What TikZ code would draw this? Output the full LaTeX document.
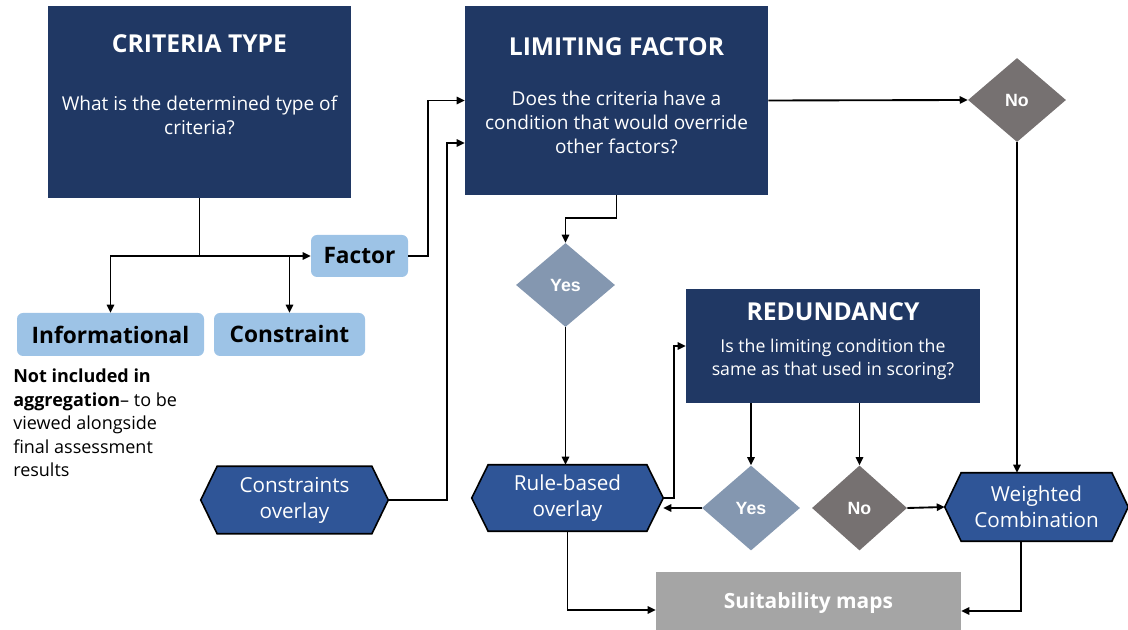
\documentclass[tikz,border=0pt]{standalone}
\usepackage{fontspec}
\setmainfont{Open Sans}
\newfontfamily\arialf{Liberation Sans}
\usetikzlibrary{shapes.geometric,arrows.meta,calc}
\pgfdeclarelayer{background}
\pgfsetlayers{background,main}
\definecolor{navy}{HTML}{203864}
\definecolor{hexblue}{HTML}{2F5597}
\definecolor{lightblue}{HTML}{9DC3E6}
\definecolor{yesc}{HTML}{8497B0}
\definecolor{noc}{HTML}{767171}
\definecolor{suitc}{HTML}{A5A5A5}
\newcommand\hexbg[1]{\begin{pgfonlayer}{background}\draw[hexline] (#1.west) -- ([xshift=12.3pt]#1.north west) -- ([xshift=-12.3pt]#1.north east) -- (#1.east) -- ([xshift=-12.3pt]#1.south east) -- ([xshift=12.3pt]#1.south west) -- cycle;\end{pgfonlayer}}
\tikzset{
  px/.style={x=0.75pt,y=-0.75pt},
  navybox/.style={fill=navy, draw=none, inner sep=0pt},
  ttl/.style={text=white, font=\fontsize{18.5}{22}\selectfont\bfseries},
  body/.style={text=white, font=\fontsize{14.3}{18}\selectfont, align=center},
  pill/.style={fill=lightblue, rounded corners=4.5pt, draw=none, inner sep=0pt, font=\fontsize{17}{20}\selectfont\bfseries},
  hexnode/.style={inner sep=0pt, text=white, align=center, font=\fontsize{15.5}{19.5}\selectfont},
  hexline/.style={draw=black, fill=hexblue, line width=1.2pt},
  dia/.style={diamond, draw=none, inner sep=0pt, text=white, font=\arialf\fontsize{13.3}{15}\selectfont\bfseries},
  arr/.style={draw=black, line width=1.4pt, -{Triangle[length=6pt,width=5.5pt]}},
}
\begin{document}
\begin{tikzpicture}[px]
\useasboundingbox (0,0) rectangle (1128,630);
% boxes
\node[navybox, minimum width=227.25pt, minimum height=144pt] (ct) at (199.5,102) {};
\node[ttl] (cttitle) at (199.5,44) {CRITERIA TYPE};
\node[body] (cttext) at (199.5,115.5) {What is the determined type of\\criteria?};

\node[navybox, minimum width=227.25pt, minimum height=141.75pt] (lf) at (616.5,100.5) {};
\node[ttl] (lftitle) at (616.5,47) {LIMITING FACTOR};
\node[body] (lftext) at (616.5,122) {Does the criteria have a\\condition that would override\\other factors?};

\node[navybox, minimum width=220.5pt, minimum height=85.5pt] (red) at (833,346) {};
\node[ttl] (redtitle) at (833,312) {REDUNDANCY};
\node[body, font=\fontsize{13.3}{17.3}\selectfont] (redtext) at (833,359.5) {Is the limiting condition the\\same as that used in scoring?};

% pills
\node[pill, minimum width=72.75pt, minimum height=31.5pt] (factor) at (359.5,256) {Factor};
\node[pill, minimum width=140.25pt, minimum height=32.25pt] (info) at (110.5,334.5) {Informational};
\node[pill, minimum width=113.25pt, minimum height=32.25pt] (cons) at (289.5,334.5) {Constraint};

\node[anchor=north west, align=left, inner sep=0pt, font=\fontsize{13.5}{17.6}\selectfont] (note) at (13,369)
 {\textbf{Not included in}\\\textbf{aggregation}-- to be\\viewed alongside\\final assessment\\results};

% hexagons
\node[hexnode, minimum width=140.25pt, minimum height=50.25pt] (co) at (294.5,500) {Constraints\\overlay};
\hexbg{co}
\node[hexnode, minimum width=143.25pt, minimum height=49.5pt] (rb) at (567.5,498) {Rule-based\\overlay};
\hexbg{rb}
\node[hexnode, minimum width=137.25pt, minimum height=51pt] (wc) at (1036.5,507) {Weighted\\Combination};
\hexbg{wc}

% diamonds
\node[dia, fill=yesc, minimum width=74.25pt, minimum height=63pt] (y1) at (565.5,285) {Yes};
\node[dia, fill=noc, minimum width=73.5pt, minimum height=63pt] (n1) at (1017,100) {No};
\node[dia, fill=yesc, minimum width=73.5pt, minimum height=63.75pt] (y2) at (751,508) {Yes};
\node[dia, fill=noc, minimum width=71.25pt, minimum height=63.75pt] (n2) at (859.5,508) {No};

% suitability
\node[fill=suitc, minimum width=228.75pt, minimum height=46.5pt, inner sep=0pt, text=white, font=\fontsize{15.7}{18}\selectfont\bfseries] (suit) at (808.5,603) {Suitability maps};

% connectors
\draw[arr] (ct.south) |- (factor.west);
\draw[arr] (ct.south |- factor.west) -| (info.north);
\draw[arr] (ct.south |- factor.west) -| (cons.north);
\draw[arr] (factor.east) -- ++(20,0) |- (lf.west);
\draw[arr] (co.east) -- ++(59,0) |- ([yshift=-31.9pt]lf.west);
\draw[arr] (lf.south) -- ++(0,23) -| (y1.north);
\draw[arr] (lf.east) -- (n1.west);
\draw[arr] (n1.south) -- (n1.south |- wc.north);
\draw[arr] (y1.south) -- (y1.south |- rb.north);
\draw[arr] (rb.east) -- ++(11,0) |- (red.west);
\draw[arr] (y2.west) -- (rb.east |- y2.west);
\draw[arr] (red.south -| y2.north) -- (y2.north);
\draw[arr] (red.south -| n2.north) -- (n2.north);
\draw[arr] (n2.east) -- (wc.west);
\draw[arr] (rb.south) |- ([yshift=-5.25pt]suit.west);
\draw[arr] ([xshift=-11.6pt]wc.south) |- ([yshift=-6pt]suit.east);
\end{tikzpicture}
\end{document}
